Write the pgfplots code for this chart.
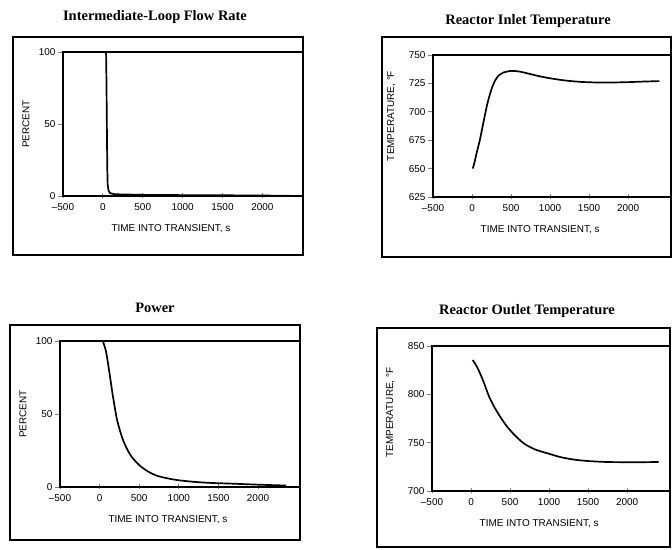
\documentclass[border=0pt]{standalone}
\usepackage{pgfplots}
\pgfplotsset{compat=1.18}
\usepackage{fontspec}
\setmainfont{Liberation Sans}
\newfontfamily\titlefont{Liberation Serif}
\pgfplotsset{
  panel/.style={
    scale only axis,
    xmin=-500,
    xtick={-500,0,500,1000,1500,2000},
    xticklabels={–500,0,500,1000,1500,2000},
    xtick pos=bottom, ytick pos=left,
    tick style={line width=0.9pt},
    major tick length=5bp,
    xtick align=center, ytick align=outside,
    axis line style={line width=1.4pt},
    /pgf/number format/assume math mode=true,
    /pgf/number format/set thousands separator={},
    tick label style={font=\fontsize{10}{11}\selectfont},
    xticklabel style={yshift=-2bp},
    yticklabel style={xshift=1bp},
    label style={font=\fontsize{9}{10}\selectfont},
    xlabel={TIME INTO TRANSIENT, s},
    every axis x label/.style={at={(axis description cs:0.45,0)},anchor=north,yshift=-25bp},
    every axis y label/.style={at={(axis description cs:0,0.5)},rotate=90,anchor=south},
  },
  curve/.style={black, line width=1.7pt, no markers},
}
\newcommand{\ttl}[1]{\titlefont\bfseries\fontsize{14.5}{16}\selectfont #1}
\begin{document}
\begin{tikzpicture}[x=1bp,y=1bp]
\useasboundingbox (0,0) rectangle (672,550);
% frames
\draw[line width=1.3pt] (13,513) rectangle (303,295);
\draw[line width=1.3pt] (382,513) rectangle (671,293);
\draw[line width=1.3pt] (10,225) rectangle (300,10);
\draw[line width=1.3pt] (377,222) rectangle (670,3);
% titles
\node at (155,533) {\ttl{Intermediate-Loop Flow Rate}};
\node at (528,529) {\ttl{Reactor Inlet Temperature}};
\node at (155,242) {\ttl{Power}};
\node at (527,239) {\ttl{Reactor Outlet Temperature}};

% Panel 1
\begin{axis}[panel, at={(63bp,354bp)}, anchor=south west, width=240bp, height=144bp,
  xmax=2510, ymin=0, ymax=100, ytick={0,50,100}, ylabel={PERCENT},
  ylabel style={yshift=30bp}]
\addplot[curve] coordinates {(40,100) (45,80) (50,50) (55,20) (60,8) (70,4) (90,2) (150,1.2) (500,0.8) (1000,0.6) (1500,0.5) (2000,0.3) (2350,0.2)};
\end{axis}

% Panel 2
\begin{axis}[panel, at={(433bp,353bp)}, anchor=south west, width=238bp, height=142bp,
  xmax=2550, ymin=625, ymax=750, ytick={625,650,675,700,725,750}, ylabel={TEMPERATURE, °F},
  ylabel style={yshift=34bp, xshift=10bp}]
\addplot[curve, smooth] coordinates {(10,650) (30,655) (60,664) (100,675) (150,692) (200,708) (250,720) (300,728) (350,732.5) (400,734.5) (500,736) (600,735.5) (700,734) (850,731.5) (1000,729.5) (1200,727.5) (1400,726.3) (1600,725.8) (1800,725.8) (2000,726.1) (2200,726.6) (2400,727)};
\end{axis}

% Panel 3
\begin{axis}[panel, at={(60bp,63bp)}, anchor=south west, width=240bp, height=146bp,
  xmax=2530, ymin=0, ymax=100, ytick={0,50,100}, ylabel={PERCENT},
  ylabel style={yshift=30bp}]
\addplot[curve, smooth] coordinates {(40,100) (80,93) (125,78) (160,65) (190,55) (220,46) (250,40) (290,33) (333,27.5) (400,21) (500,15) (600,11) (708,8) (850,6) (1000,4.6) (1200,3.5) (1400,2.8) (1667,2.3) (2000,1.6) (2354,1)};
\end{axis}

% Panel 4
\begin{axis}[panel, at={(432bp,59bp)}, anchor=south west, width=238bp, height=145bp,
  xmax=2550, ymin=700, ymax=850, ytick={700,750,800,850}, ylabel={TEMPERATURE, °F},
  ylabel style={yshift=34bp, xshift=6bp}]
\addplot[curve, smooth] coordinates {(21,835.5) (50,832) (85,827) (130,819) (170,811) (230,798) (298,787) (380,776) (468,766) (570,757) (681,749) (820,743) (979,739) (1150,735) (1319,732.5) (1500,731) (1745,730) (2000,729.8) (2200,729.8) (2404,730)};
\end{axis}
\end{tikzpicture}
\end{document}
